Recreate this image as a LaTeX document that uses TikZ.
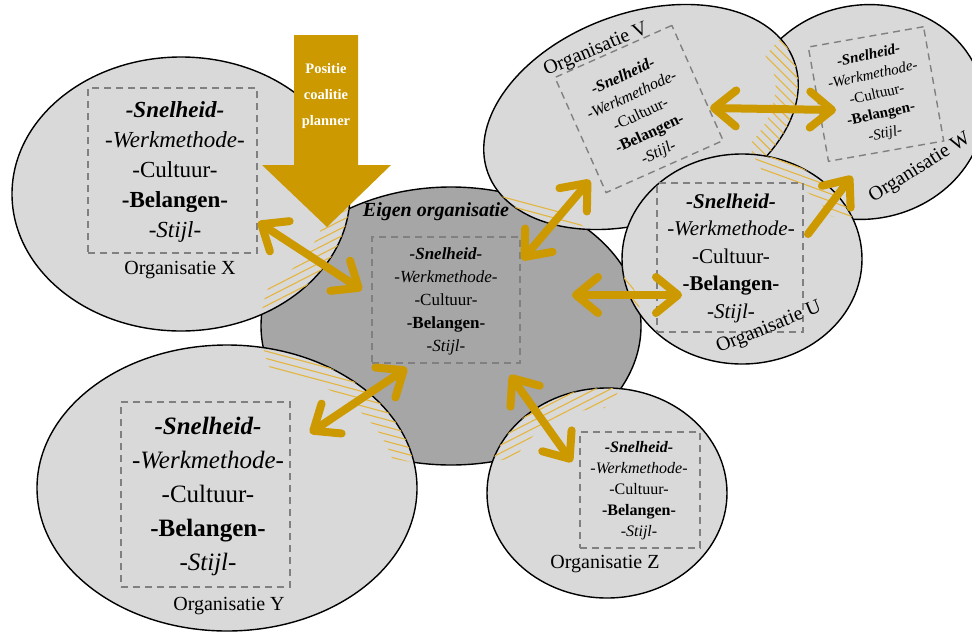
\documentclass[tikz,border=0pt]{standalone}
\usepackage{fontspec}
\setmainfont{Liberation Serif}
\usetikzlibrary{arrows.meta}
\definecolor{gold}{RGB}{204,153,0}
\definecolor{hatchgold}{RGB}{228,182,64}
\definecolor{orgfill}{RGB}{217,217,217}
\definecolor{corefill}{RGB}{166,166,166}
\definecolor{boxgray}{RGB}{128,128,128}

% outlines of the organisations (centre, radii) and their inner hatch limits
\newcommand\pC{(451,326) ellipse [x radius=190, y radius=139]}
\newcommand\pX{(181,194) ellipse [x radius=169, y radius=137]}
\newcommand\sX{(181,194) ellipse [x radius=147, y radius=115]}
\newcommand\pY{(227,488) ellipse [x radius=190, y radius=143]}
\newcommand\sY{(227,488) ellipse [x radius=170, y radius=123]}
\newcommand\pZ{(607,493) ellipse [x radius=120, y radius=105]}
\newcommand\sZ{(607,493) ellipse [x radius=100, y radius=85]}
\newcommand\pU{(742,259) ellipse [x radius=120, y radius=105]}
\newcommand\sU{(742,259) ellipse [x radius=102, y radius=87]}
\newcommand\pV{(641,117) ellipse [x radius=163, y radius=104]}
\newcommand\sV{(641,117) ellipse [x radius=140, y radius=84]}
\newcommand\pW{(865,112) ellipse [x radius=120, y radius=107]}

% the five aspects written in every organisation
\newcommand\orgtext{{\bfseries\itshape -Snelheid-}\\{\itshape -Werkmethode-}\\-Cultuur-\\{\bfseries -Belangen-}\\{\itshape -Stijl-}}

% parallel hatch lines around a centre at a given angle
\newcommand\hatchlines[3]{%
  \foreach \k in {-24,...,24}
    \draw[hatchline, rotate around={#3:(#1,#2)}] ({#1-220},{#2+7*(\k)}) -- ({#1+220},{#2+7*(\k)});}

\begin{document}
\begin{tikzpicture}[x=1pt,y=-1pt,
  orgshape/.style={fill=orgfill, draw=black, line width=1.4pt},
  coreshape/.style={fill=corefill, draw=black, line width=1.4pt},
  hatchline/.style={draw=hatchgold, line width=1.1pt},
  dbox/.style={draw=boxgray, dash pattern=on 7pt off 5pt, line width=1.4pt, inner sep=0pt},
  orgtxt/.style={align=center, inner sep=0pt},
  orglabel/.style={inner sep=0pt, font=\fontsize{20}{24}\selectfont},
  eV/.style={rotate around={20:(641,117)}},
  eW/.style={rotate around={10:(865,112)}},
  barb/.tip={Straight Barb[length=22pt,width=36pt,round]},
  link/.style={draw=gold, line width=8pt, barb-barb},
  oneway/.style={draw=gold, line width=8pt, line cap=round, -barb}]

\useasboundingbox (0,0) rectangle (972,633);
\fill[white] (0,0) rectangle (972,633);
\clip (0,0) rectangle (972,633);

% own organisation
\path[coreshape] \pC;

% organisation W
\path[orgshape, eW] \pW;

% organisation V with its overlaps
\path[orgshape, eV] \pV;
\begin{scope}[even odd rule]
  \clip \pC;
  \clip[eV] \pV \sV;
  \hatchlines{560}{205}{-15}
\end{scope}
\begin{scope}[even odd rule]
  \clip[eW] \pW;
  \clip[eV] \pV \sV;
  \hatchlines{775}{105}{-45}
\end{scope}

% organisation U with its overlaps
\path[orgshape] \pU;
\begin{scope}[even odd rule]
  \clip \pC;
  \clip \pU \sU;
  \hatchlines{630}{285}{-50}
\end{scope}
\begin{scope}[even odd rule]
  \clip[eW] \pW;
  \clip \pU \sU;
  \hatchlines{820}{190}{-20}
\end{scope}

% organisation X
\path[orgshape] \pX;
\begin{scope}[even odd rule]
  \clip \pC;
  \clip \pX \sX;
  \hatchlines{300}{265}{27}
\end{scope}

% organisation Y
\path[orgshape] \pY;
\begin{scope}[even odd rule]
  \clip \pC;
  \clip \pY \sY;
  \hatchlines{340}{400}{-15}
\end{scope}

% organisation Z
\path[orgshape] \pZ;
\begin{scope}[even odd rule]
  \clip \pC;
  \clip \pZ \sZ;
  \hatchlines{540}{425}{27}
\end{scope}

% dashed frames
\node[dbox, minimum width=169pt, minimum height=165pt] (bX) at (172.5,170.5) {};
\node[dbox, minimum width=169pt, minimum height=185pt] (bY) at (205.5,494.5) {};
\node[dbox, minimum width=148pt, minimum height=126pt] (bC) at (446,300) {};
\node[dbox, minimum width=120pt, minimum height=116pt] (bZ) at (640,490) {};
\node[dbox, minimum width=146pt, minimum height=149pt] (bU) at (730,257.5) {};
\node[dbox, minimum width=128pt, minimum height=126pt, rotate=24] (bV) at (639,109) {};
\node[dbox, minimum width=117pt, minimum height=116pt, rotate=10] (bW) at (876,94) {};

% aspects
\node[orgtxt, font=\fontsize{23}{30}\selectfont] (tX) at (175,172) {\orgtext};
\node[orgtxt, font=\fontsize{25}{34}\selectfont] (tY) at (208,496) {\orgtext};
\node[orgtxt, font=\fontsize{17}{23}\selectfont] (tC) at (446,301) {\orgtext};
\node[orgtxt, font=\fontsize{16}{21}\selectfont] (tZ) at (639,491) {\orgtext};
\node[orgtxt, font=\fontsize{21}{27.5}\selectfont] (tU) at (731,258) {\orgtext};
\node[orgtxt, font=\fontsize{16}{21}\selectfont, rotate=25] (tV) at (641,115) {\orgtext};
\node[orgtxt, font=\fontsize{15}{20}\selectfont, rotate=12] (tW) at (877,95) {\orgtext};

% names
\node[orglabel] (lX) at (180,270) {Organisatie X};
\node[orglabel] (lY) at (229,606) {Organisatie Y};
\node[orglabel] (lZ) at (605,564) {Organisatie Z};
\node[orglabel, rotate=22] (lU) at (769,328) {Organisatie U};
\node[orglabel, rotate=23] (lV) at (596,50) {Organisatie V};
\node[orglabel, rotate=32] (lW) at (920,168) {Organisatie W};
\node[inner sep=0pt, font=\fontsize{20}{24}\selectfont\bfseries\itshape] (lC) at (436,212) {Eigen organisatie};

% relations
\coordinate (xa) at (258,222); \coordinate (xb) at (362,290);
\coordinate (ya) at (310,433); \coordinate (yb) at (407,368);
\coordinate (za) at (510,375); \coordinate (zb) at (572,462);
\coordinate (ua) at (572,295); \coordinate (ub) at (682,295);
\coordinate (va) at (522,260); \coordinate (vb) at (590,180);
\coordinate (wa) at (710,108); \coordinate (wb) at (836,110);
\coordinate (uwa) at (808,234); \coordinate (uwb) at (852,176);
\draw[link] (xa) -- (xb);
\draw[link] (ya) -- (yb);
\draw[link] (za) -- (zb);
\draw[link] (ua) -- (ub);
\draw[link] (va) -- (vb);
\draw[link] (wa) -- (wb);
\draw[oneway] (uwa) -- (uwb);

% coalition planner
\fill[gold] (294,35) -- (358,35) -- (358,165) -- (391,165) -- (327,227) -- (262,165) -- (294,165) -- cycle;
\node[align=center, text=white, inner sep=0pt, font=\fontsize{14.5}{26}\selectfont\bfseries] (planner) at (326,96) {Positie\\coalitie\\planner};
\end{tikzpicture}
\end{document}
